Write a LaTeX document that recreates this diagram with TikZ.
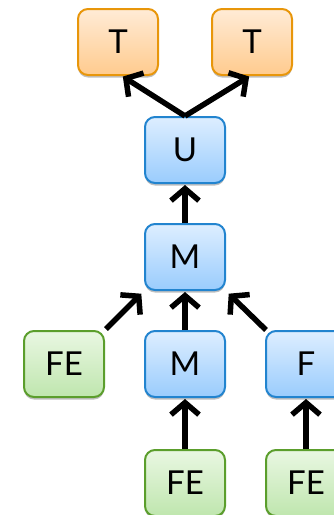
\documentclass[tikz,border=0pt]{standalone}
\usepackage{fontspec}
\setmainfont{Lato}
\usetikzlibrary{arrows.meta,shadows}
\definecolor{orB}{HTML}{E8960A}
\definecolor{orT}{HTML}{FFEBD6}
\definecolor{orM}{HTML}{FFCB8E}
\definecolor{blB}{HTML}{2284CF}
\definecolor{blT}{HTML}{DDEEFF}
\definecolor{blM}{HTML}{9ACCFD}
\definecolor{grB}{HTML}{5B9E2C}
\definecolor{grT}{HTML}{E9F7E2}
\definecolor{grM}{HTML}{BFE6AE}
\tikzset{
  box/.style={rounded corners=10pt, minimum width=80pt, minimum height=66pt, line width=2pt,
    font=\fontsize{33}{35}\selectfont, inner sep=0pt,
    drop shadow={shadow xshift=0pt, shadow yshift=-2.5pt, opacity=0.25, fill=black}},
  tbox/.style={box, draw=orB, top color=orT, bottom color=orM},
  ubox/.style={box, draw=blB, top color=blT, bottom color=blM},
  gbox/.style={box, draw=grB, top color=grT, bottom color=grM},
  conn/.style={line width=5.5pt, -{Straight Barb[length=12pt,width=28pt,line width=5.5pt]}, shorten >=1pt}
}
\begin{document}
\begin{tikzpicture}[x=1pt,y=1pt]
\useasboundingbox (0,0) rectangle (334,-515);
\node[tbox] (t1) at (118,-42) {T};
\node[tbox] (t2) at (252,-42) {T};
\node[ubox] (u) at (185,-150) {U};
\node[ubox] (m1) at (185,-257) {M};
\node[gbox] (fe1) at (64,-364) {FE};
\node[ubox] (m2) at (185,-364) {M};
\node[ubox] (f) at (306,-364) {F};
\node[gbox] (fe2) at (185,-483) {FE};
\node[gbox] (fe3) at (306,-483) {FE};
\draw[conn] (u.north) -- ([xshift=4pt]t1.south);
\draw[conn] (u.north) -- ([xshift=-2pt]t2.south);
\draw[conn] (m1.north) -- (u.south);
\draw[conn] (m2.north) -- (m1.south);
\draw[conn] ([xshift=1pt,yshift=1pt]fe1.north east) -- ([xshift=-2pt,yshift=-2pt]m1.south west);
\draw[conn] ([xshift=1pt]f.north west) -- ([xshift=2pt,yshift=-2pt]m1.south east);
\draw[conn] (fe2.north) -- (m2.south);
\draw[conn] (fe3.north) -- (f.south);
\end{tikzpicture}
\end{document}
